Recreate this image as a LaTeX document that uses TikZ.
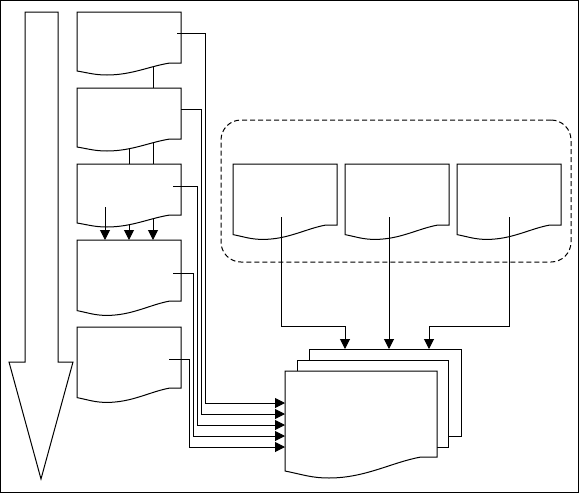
\documentclass[tikz,border=0pt]{standalone}
\usepackage{tikz}
\usetikzlibrary{arrows.meta}

% document outline: node, wave x-scale, wave y-scale
\newcommand{\docout}[3]{%
  \draw[fill=white] (#1.north west) -- (#1.north east) -- (#1.south east)
    -- ++({-11*#2},0) .. controls +({-20*#2},{3*#3}) and +({25*#2},0) .. ++({-63*#2},{12*#3})
    .. controls +({-12*#2},0) and +({12*#2},{2*#3}) .. ([shift={(0,{8*#3})}]#1.south west) -- cycle;}

\begin{document}
\begin{tikzpicture}[x=1pt, y=-1pt, line width=1pt,
      doc/.style={rectangle, inner sep=0pt, outer sep=0pt, minimum width=104pt, minimum height=51pt},
      page/.style={draw, fill=white, rectangle, inner sep=0pt, outer sep=0pt, minimum width=152pt, minimum height=87pt},
      arr/.style={-{Triangle[length=10pt, width=10pt]}}]
    \useasboundingbox (0,0) rectangle (579,493);
    \draw (0.5,0.5) rectangle (578.5,492.5);
    % big arrow
    \draw (25,12) -- (58,12) -- (58,362) -- (73,362) -- (41,479) -- (9,362) -- (25,362) -- cycle;

    % left column
    \node[doc] (d1) at (129,37.5) {};
    \node[doc] (d2) at (129,113.5) {};
    \node[doc] (d3) at (129,189.5) {};
    \node[doc, minimum height=61pt] (d4) at (129,270.5) {};
    \node[doc, minimum height=61pt] (d5) at (129,357.5) {};
    \foreach \n in {d1,d2,d3} \docout{\n}{1}{1};
    \foreach \n in {d4,d5} \docout{\n}{1}{1.2};

    % stacked output
    \node[page] (back) at (385,392.5) {};
    \node[page, minimum width=151pt] (mid) at (372.5,403.5) {};
    \node[doc, minimum width=152pt, minimum height=86pt] (out) at (361,414) {};
    \docout{out}{1.46}{1.75};

    % dashed group
    \node[draw, dash pattern=on 5pt off 3pt, rounded corners=20pt, inner sep=0pt,
          minimum width=350pt, minimum height=142pt] (grp) at (396,191) {};
    \node[doc, minimum height=61pt] (s1) at (285,194.5) {};
    \node[doc, minimum height=61pt] (s2) at (397,194.5) {};
    \node[doc, minimum height=61pt] (s3) at (509,194.5) {};
    \foreach \n in {s1,s2,s3} \docout{\n}{1}{1.2};

    % column links
    \draw ([shift={(24,3)}]d1.south) -- ([xshift=24pt]d2.north);
    \draw ([shift={(0,9)}]d2.south) -- (d3.north);
    \draw ([shift={(24,3)}]d2.south) -- ([xshift=24pt]d3.north);
    \draw[arr] ([shift={(-24,-8)}]d3.south) -- ([xshift=-24pt]d4.north);
    \draw[arr] ([shift={(0,9)}]d3.south) -- (d4.north);
    \draw[arr] ([shift={(24,3)}]d3.south) -- ([xshift=24pt]d4.north);

    % into output
    \draw[arr] ([shift={(-4,-4.5)}]d1.east) -- ++(28,0) |- ([shift={(0,-11)}]out.west);
    \draw[arr] ([shift={(0,-4.5)}]d2.east) -- ++(20,0) |- (out.west);
    \draw[arr] ([shift={(-8,-3.5)}]d3.east) -- ++(24,0) |- ([shift={(0,11)}]out.west);
    \draw[arr] ([shift={(-8,2.5)}]d4.east) -- ++(20,0) |- ([shift={(0,22)}]out.west);
    \draw[arr] ([shift={(-12,1.5)}]d5.east) -- ++(20,0) |- ([shift={(0,33)}]out.west);

    \draw[arr] ([shift={(-4,22.5)}]s1.center) -- ++(0,109) -| ([xshift=-40pt]back.north);
    \draw[arr] ([shift={(-8,22.5)}]s2.center) -- ([xshift=4pt]back.north);
    \draw[arr] ([shift={(0,22.5)}]s3.center) -- ++(0,109) -| ([xshift=44pt]back.north);
  \end{tikzpicture}
\end{document}
